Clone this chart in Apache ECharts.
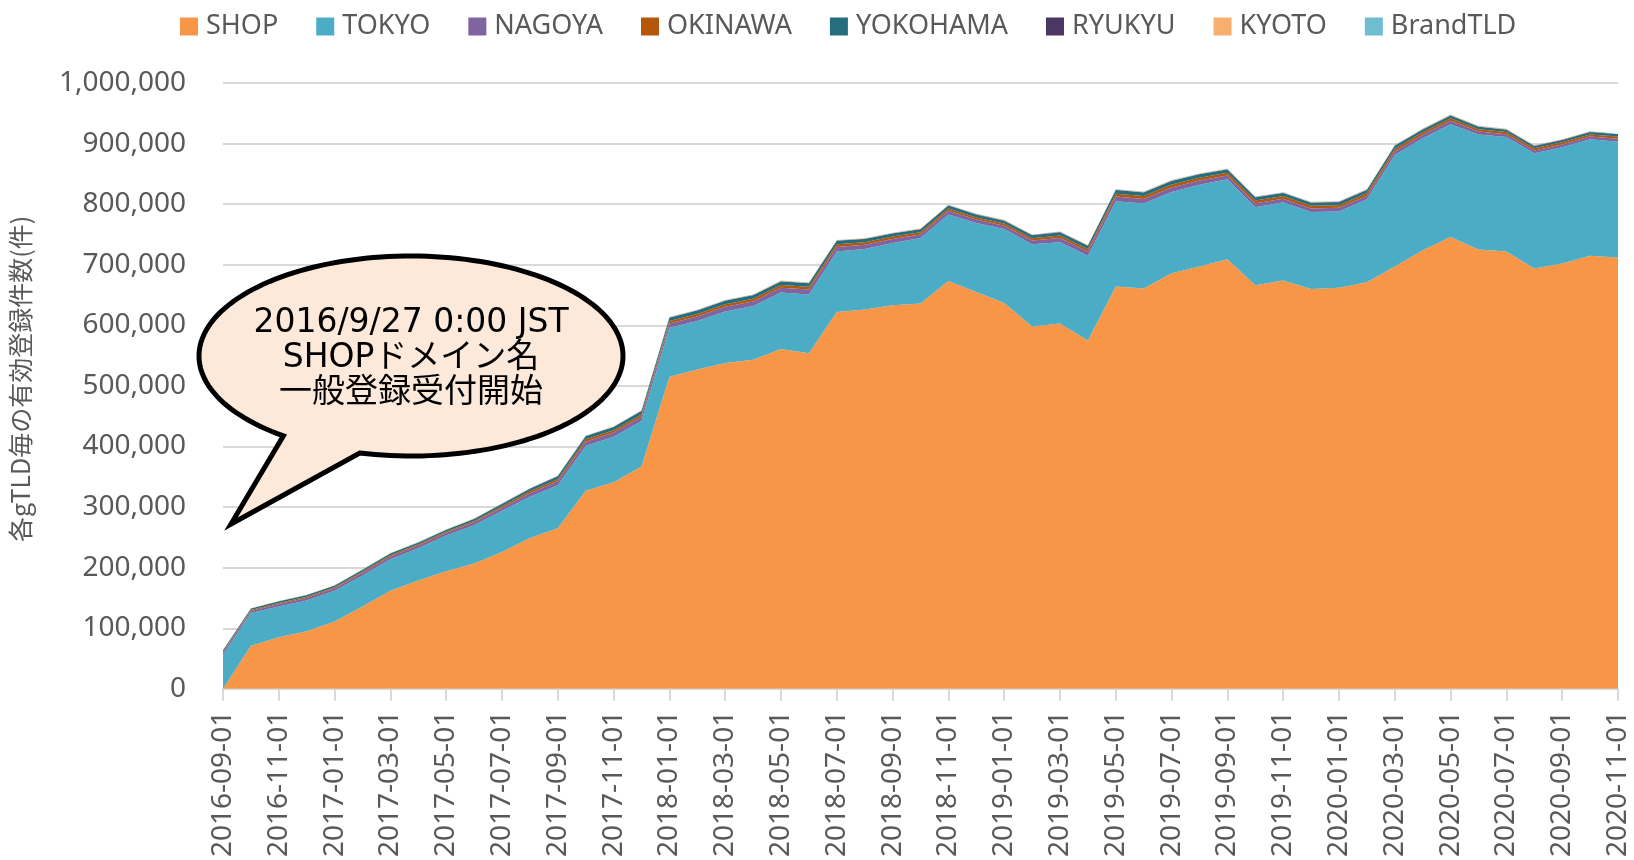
<!DOCTYPE html>
<html>
<head>
<meta charset="utf-8">
<title>gTLD 有効登録件数</title>
<script src="https://cdn.jsdelivr.net/npm/echarts/dist/echarts.min.js"></script>
<style>
    html, body { margin: 0; padding: 0; background: #fff; }
    #mainChart { width: 1634px; height: 860px; }
</style>
</head>
<body>
<div id="mainChart"></div>
<script>
    // 月次カテゴリ
    var months = [
        '2016-09-01','2016-10-01','2016-11-01','2016-12-01',
        '2017-01-01','2017-02-01','2017-03-01','2017-04-01','2017-05-01','2017-06-01',
        '2017-07-01','2017-08-01','2017-09-01','2017-10-01','2017-11-01','2017-12-01',
        '2018-01-01','2018-02-01','2018-03-01','2018-04-01','2018-05-01','2018-06-01',
        '2018-07-01','2018-08-01','2018-09-01','2018-10-01','2018-11-01','2018-12-01',
        '2019-01-01','2019-02-01','2019-03-01','2019-04-01','2019-05-01','2019-06-01',
        '2019-07-01','2019-08-01','2019-09-01','2019-10-01','2019-11-01','2019-12-01',
        '2020-01-01','2020-02-01','2020-03-01','2020-04-01','2020-05-01','2020-06-01',
        '2020-07-01','2020-08-01','2020-09-01','2020-10-01','2020-11-01'
    ];
    var tldNames = ['SHOP','TOKYO','NAGOYA','OKINAWA','YOKOHAMA','RYUKYU','KYOTO','BrandTLD'];
    var tldColors = ['#F79646','#4BACC6','#8064A2','#B45709','#246E7E','#4B3862','#F9AE6E','#6FBDD1'];

    var shop = [0,71000,85000,95000,111000,136000,162000,179000,194000,207000,226000,249000,265000,
        327000,341000,367000,515000,527000,538000,543000,561000,554000,622000,626000,633000,636000,
        673000,655000,637000,598000,603000,575000,664000,661000,686000,697000,709000,666000,674000,
        660000,662000,671000,697000,724000,746000,725000,722000,694000,702000,715000,712000];
    var tokyo = [56000,54000,51000,51000,51000,51000,52000,53000,59000,63000,68000,68000,71000,
        74000,75000,75000,81000,80000,85000,89000,93000,97000,100000,100000,103000,108000,
        110000,114000,122000,136000,134000,140000,141000,140000,134000,135000,132000,129000,129000,
        127000,126000,137000,184000,185000,186000,190000,189000,190000,192000,192000,191000];
    var nagoya = [3500,3500,4000,4000,4000,4500,4500,4500,4500,5000,5000,6000,6500,7000,7000,7000,
        7000,7500,7500,7500,8000,8000,7500,7000,6500,6000,6000,5500,5500,6000,7000,7000,7500,7500,
        7500,7000,6500,6500,6000,6000,6000,6000,6000,5500,5500,5000,4500,4500,4500,4500,5000];
    var okinawa = [1500,1500,1800,1800,1800,2000,2000,2000,2000,2200,2500,3000,3500,3800,3800,4000,
        4000,4200,4200,4200,4500,4500,4300,4200,4000,3800,3800,3600,3600,3800,4200,4200,4800,4800,
        4800,4600,4500,4500,4400,4400,4400,4400,4400,4200,4200,3800,3600,3600,3600,3600,3800];
    var yokohama = [2500,2500,2700,2700,2700,3000,3000,3000,3000,3200,3800,4200,5000,5200,5200,5600,
        5600,5800,5800,5800,5900,5900,5700,5300,5000,4800,4800,4600,4600,4800,5200,5200,5900,5900,
        5900,5600,5200,5200,4900,4900,4900,4900,4900,4600,4600,3900,3700,3700,3700,3700,4000];
    var ryukyu = [200,200,200,200,200,250,250,250,250,300,300,350,400,400,400,450,450,450,450,450,
        500,500,500,500,500,500,500,500,500,500,500,500,550,550,550,550,550,550,550,550,550,550,
        550,550,550,550,550,550,550,550,550];
    var kyoto = [300,300,300,300,300,350,350,350,350,400,400,400,450,450,450,500,500,500,500,500,
        550,550,550,550,550,550,550,550,550,550,550,550,600,600,600,600,600,600,600,600,600,600,
        600,600,600,600,600,600,600,600,600];
    var brandTld = [100,100,100,100,100,150,150,150,150,200,200,200,250,250,250,300,300,300,300,300,
        350,350,350,350,350,350,350,350,350,350,350,350,400,400,400,400,400,400,400,400,400,400,
        400,400,400,400,400,400,400,400,400];
    var yTicks = [0,100000,200000,300000,400000,500000,600000,700000,800000,900000,1000000];

    var seriesData = [shop, tokyo, nagoya, okinawa, yokohama, ryukyu, kyoto, brandTld];

    var series = [];
    for (var i = 0; i < tldNames.length; i++) {
        series.push({
            name: tldNames[i],
            type: 'line',
            stack: 'total',
            data: seriesData[i],
            showSymbol: false,
            symbol: 'none',
            lineStyle: { width: 0 },
            areaStyle: { color: tldColors[i], opacity: 1 },
            itemStyle: { color: tldColors[i] },
            emphasis: { disabled: true }
        });
    }

    // 吹き出し（楕円＋しっぽ）
    var cx = 411, cy = 356, rx = 212, ry = 100;
    var tailTip = [231, 524];
    var a1 = 104 * Math.PI / 180, a2 = (127 - 360) * Math.PI / 180;
    var bubblePts = [];
    for (var k = 0; k <= 160; k++) {
        var t = a1 + (a2 - a1) * k / 160;
        bubblePts.push([cx + rx * Math.cos(t), cy + ry * Math.sin(t)]);
    }
    bubblePts.push(tailTip);

    var option = {
        animation: false,
        color: tldColors,
        legend: {
            top: 8,
            left: 175,
            icon: 'rect',
            itemWidth: 18,
            itemHeight: 18,
            itemGap: 38,
            textStyle: { fontFamily: 'Noto Sans', fontSize: 27, color: '#595959', padding: [0, 0, 0, 3] },
            data: tldNames
        },
        grid: { left: 223, right: 16, top: 83, bottom: 169, containLabel: false },
        xAxis: {
            type: 'category',
            boundaryGap: false,
            data: months,
            axisLine: { lineStyle: { color: '#d9d9d9', width: 2 } },
            axisTick: { show: true, interval: 1, length: 12, lineStyle: { color: '#d9d9d9', width: 2 } },
            axisLabel: {
                interval: 1,
                rotate: 90,
                margin: 22,
                color: '#595959',
                fontFamily: 'Noto Sans',
                fontSize: 28
            }
        },
        yAxis: {
            type: 'value',
            min: yTicks[0],
            max: yTicks[yTicks.length - 1],
            interval: yTicks[1] - yTicks[0],
            name: '各gTLD毎の有効登録件数(件)',
            nameLocation: 'middle',
            nameRotate: 90,
            nameGap: 190,
            nameTextStyle: {
                fontFamily: 'Noto Sans CJK JP',
                fontSize: 25,
                color: '#595959',
                padding: [0, 0, 0, 14]
            },
            axisLine: { show: false },
            axisTick: { show: false },
            splitLine: { lineStyle: { color: '#d9d9d9', width: 2 } },
            axisLabel: {
                margin: 37,
                color: '#595959',
                fontFamily: 'Noto Sans',
                fontSize: 28,
                formatter: function (v) {
                    return String(v).replace(/\B(?=(\d{3})+(?!\d))/g, ',');
                }
            }
        },
        series: series,
        graphic: [
            {
                type: 'polygon',
                z: 100,
                shape: { points: bubblePts },
                style: { fill: '#FDE9D9', stroke: '#000', lineWidth: 5, lineJoin: 'miter' }
            },
            {
                type: 'text',
                z: 101,
                style: {
                    text: '2016/9/27 0:00 JST\nSHOPドメイン名\n一般登録受付開始',
                    x: 411,
                    y: 358,
                    textAlign: 'center',
                    textVerticalAlign: 'middle',
                    align: 'center',
                    verticalAlign: 'middle',
                    lineHeight: 35,
                    font: '33px "DejaVu Sans", "Noto Sans CJK JP", sans-serif',
                    fill: '#000'
                }
            }
        ]
    };

    var chart = echarts.init(document.getElementById('mainChart'));
    chart.setOption(option);
</script>
</body>
</html>
